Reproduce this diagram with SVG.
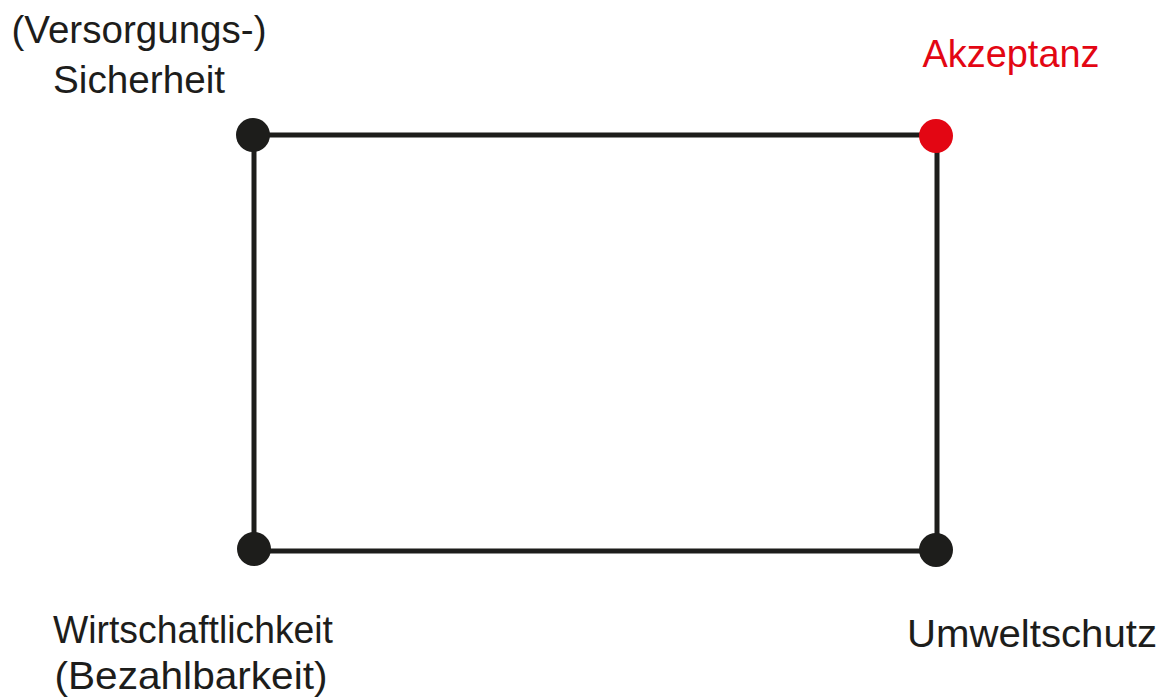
<svg xmlns="http://www.w3.org/2000/svg" width="1167" height="698" viewBox="0 0 1167 698">
  <style>
    .lbl { font-family: "Liberation Sans", Arial, sans-serif; font-size: 39px; fill: #1d1d1b; text-anchor: middle; }
    .red { fill: #e30613; }
    .edge { stroke: #1d1d1b; stroke-width: 5; fill: none; }
    .dot { fill: #1d1d1b; }
    .dot.red { fill: #e30613; }
  </style>
  <rect width="1167" height="698" fill="#ffffff"/>
  <g id="connectors">
    <line class="edge" x1="254" y1="135" x2="937" y2="135"/>
    <line class="edge" x1="937" y1="135" x2="937" y2="551"/>
    <line class="edge" x1="937" y1="551" x2="254" y2="551"/>
    <line class="edge" x1="254" y1="551" x2="254" y2="135"/>
  </g>
  <g id="sicherheit">
    <circle class="dot" cx="253" cy="135" r="17"/>
    <text class="lbl" x="139" y="43" textLength="255" lengthAdjust="spacingAndGlyphs">(Versorgungs-)</text>
    <text class="lbl" x="139" y="93" textLength="172" lengthAdjust="spacingAndGlyphs">Sicherheit</text>
  </g>
  <g id="akzeptanz">
    <circle class="dot red" cx="936" cy="136" r="17"/>
    <text class="lbl red" x="1011" y="67" textLength="177" lengthAdjust="spacingAndGlyphs">Akzeptanz</text>
  </g>
  <g id="wirtschaftlichkeit">
    <circle class="dot" cx="254" cy="549" r="17"/>
    <text class="lbl" x="193" y="643" textLength="280" lengthAdjust="spacingAndGlyphs">Wirtschaftlichkeit</text>
    <text class="lbl" x="191" y="689" textLength="273" lengthAdjust="spacingAndGlyphs">(Bezahlbarkeit)</text>
  </g>
  <g id="umweltschutz">
    <circle class="dot" cx="936" cy="550" r="17"/>
    <text class="lbl" x="1032" y="647" textLength="250" lengthAdjust="spacingAndGlyphs">Umweltschutz</text>
  </g>
</svg>
